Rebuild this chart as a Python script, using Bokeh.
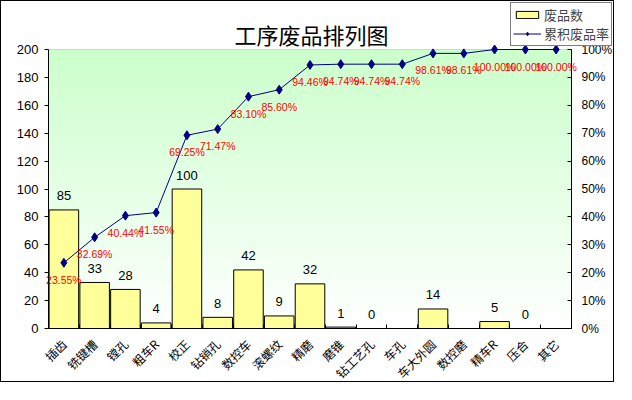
import numpy as np
from bokeh.plotting import figure
from bokeh.models import (Range1d, LinearAxis, SingleIntervalTicker, FixedTicker, Label, BoxAnnotation,
                          NumeralTickFormatter, Legend, LegendItem, ColumnDataSource)
from bokeh.core.properties import value
from bokeh.embed import file_html
from bokeh.resources import INLINE

# ---- data ----
categories = ["插齿", "铣键槽", "镗孔", "粗车R", "校正", "钻销孔", "数控车", "滚螺纹", "精磨",
              "磨锥", "钻工艺孔", "车孔", "车大外圆", "数控磨", "精车R", "压合", "其它"]
counts = [85, 33, 28, 4, 100, 8, 42, 9, 32, 1, 0, None, 14, None, 5, 0, None]
cum_pct = [23.55, 32.69, 40.44, 41.55, 69.25, 71.47, 83.10, 85.60, 94.46,
           94.74, 94.74, 94.74, 98.61, 98.61, 100.00, 100.00, 100.00]
left_max = 200
title_text = "工序废品排列图"
bar_label = "废品数"
line_label = "累积废品率"

CJK = "Noto Sans CJK SC"
LAT = "Liberation Sans"

# layout (pixels) - the frame covers the whole canvas, axes are pinned inside it
W, H = 614, 382
PL, PR, PT, PB = 47, 570, 48, 327       # plot-area edges on the canvas
ncat = len(categories)
xpos = list(range(ncat))
x0, x1 = -0.5, ncat - 0.5
ppx = (PR - PL) / (x1 - x0)
ppy = (PB - PT) / left_max
x_start, x_end = x0 - PL / ppx, x1 + (W - PR) / ppx
y_start, y_end = -(H - PB) / ppy, left_max + PT / ppy

p = figure(width=W, height=H, output_backend="svg", toolbar_location=None,
           x_range=Range1d(x_start, x_end), y_range=Range1d(y_start, y_end),
           min_border=0)
p.styles = {"border": "1px solid black"}
p.xgrid.visible = False
p.ygrid.visible = False
p.outline_line_color = None
p.background_fill_color = "white"
p.border_fill_color = "white"

# gradient background of plot area (green top -> white bottom)
n = 200
t = np.linspace(0, 1, n)[:, None]
top = np.array([204, 255, 204])
bot = np.array([255, 255, 255])
cols = (bot + (top - bot) * t).astype(np.uint32)
img = np.zeros((n, 1), dtype=np.uint32)
view = img.view(dtype=np.uint8).reshape((n, 1, 4))
view[:, :, 0] = cols[:, 0:1]
view[:, :, 1] = cols[:, 1:2]
view[:, :, 2] = cols[:, 2:3]
view[:, :, 3] = 255
p.image_rgba(image=[img], x=x0, y=0, dw=x1 - x0, dh=left_max, level="image")
p.add_layout(BoxAnnotation(left=x0, right=x1, bottom=0, top=left_max, fill_alpha=0,
                           line_color="#808080", line_width=1, level="underlay"))

# bars
bar_vals = [np.nan if v is None else v for v in counts]
src = ColumnDataSource(dict(x=xpos, top=bar_vals))
bars = p.vbar(x="x", top="top", width=0.96, source=src, fill_color="#FFFF99",
              line_color="black", line_width=1)

# bar value labels
lab_x = [i for i, v in zip(xpos, counts) if v is not None]
lab_y = [v for v in counts if v is not None]
p.text(x=lab_x, y=lab_y, text=[str(v) for v in lab_y], text_align="center",
       text_baseline="middle", y_offset=-14, text_font=value(LAT),
       text_font_size="13px", text_color="black")

# cumulative percentage line on right axis
p.extra_y_ranges = {"pct": Range1d(y_start / left_max, y_end / left_max)}
frac = [v / 100.0 for v in cum_pct]
line = p.line(x=xpos, y=frac, y_range_name="pct", line_color="#000080", line_width=1)
pts = p.scatter(x=xpos, y=frac, y_range_name="pct", marker="diamond", size=9,
                fill_color="#000080", line_color="#000080")
p.text(x=xpos, y=frac, text=["%.2f%%" % v for v in cum_pct], y_range_name="pct",
       text_align="center", text_baseline="middle", y_offset=17, text_font=value(LAT),
       text_font_size="10.5px", text_color="red")

# axes (pinned at the plot-area edges)
la = p.yaxis[0]
la.ticker = SingleIntervalTicker(interval=20)
la.bounds = (0, left_max)
la.fixed_location = x0
ra = LinearAxis(y_range_name="pct", ticker=SingleIntervalTicker(interval=0.1),
                formatter=NumeralTickFormatter(format="0%"), bounds=(0, 1), fixed_location=x1)
p.add_layout(ra, "right")
for ax in (la, ra):
    ax.axis_line_color = "black"
    ax.major_tick_line_color = "black"
    ax.minor_tick_line_color = None
    ax.major_label_text_font = LAT
    ax.major_label_text_color = "black"
la.major_label_text_font_size = "13px"
la.major_tick_in = 0
la.major_tick_out = 4
la.major_label_standoff = 6
ra.major_label_text_font_size = "12px"
ra.major_tick_in = 4
ra.major_tick_out = 0
ra.major_label_standoff = 6

xa = p.xaxis[0]
xa.fixed_location = 0
xa.ticker = FixedTicker(ticks=xpos, minor_ticks=[i - 0.5 for i in range(ncat + 1)])
xa.major_label_overrides = {i: c for i, c in zip(xpos, categories)}
xa.bounds = (x0, x1)
xa.axis_line_color = "black"
xa.major_tick_line_color = None
xa.minor_tick_line_color = "black"
xa.minor_tick_in = 4
xa.minor_tick_out = 0
xa.major_label_orientation = np.pi / 4
xa.major_label_text_font = CJK
xa.major_label_text_font_size = "12px"
xa.major_label_text_color = "black"
xa.major_label_standoff = 7

# title
p.add_layout(Label(x=310, y=H - 32, x_units="screen", y_units="screen", text=title_text,
                   text_align="center", text_baseline="middle", text_font=CJK,
                   text_font_size="22px", text_color="black"))

legend = Legend(items=[LegendItem(label=bar_label, renderers=[bars]),
                       LegendItem(label=line_label, renderers=[line, pts])],
                location=(509, H - 45), orientation="vertical")
legend.border_line_color = "black"
legend.border_line_width = 1
legend.background_fill_color = "white"
legend.background_fill_alpha = 1
legend.label_text_font = CJK
legend.label_text_font_size = "13px"
legend.glyph_width = 28
legend.glyph_height = 9
legend.padding = 2
legend.spacing = 0
legend.margin = 0
legend.label_standoff = 3
legend.label_height = 14
p.add_layout(legend, "center")

open("out.html", "w").write(file_html(p, INLINE))
